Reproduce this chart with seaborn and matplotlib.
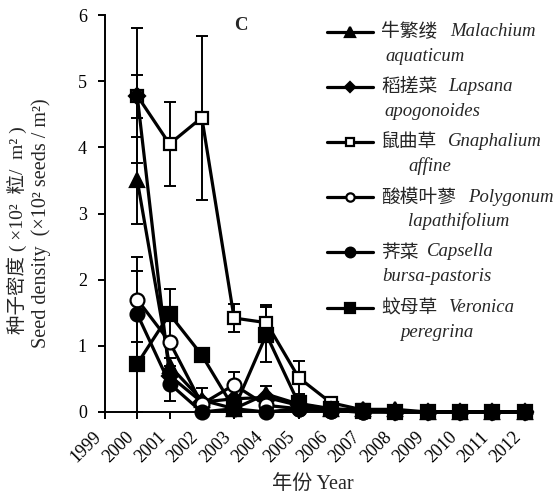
import matplotlib
matplotlib.use("Agg")
import matplotlib.pyplot as plt
import seaborn as sns
import numpy as np
from matplotlib.lines import Line2D

# ---------------- data ----------------
years = [2000, 2001, 2002, 2003, 2004, 2005, 2006, 2007, 2008, 2009, 2010, 2011, 2012]
tick_years = [1999, 2000, 2001, 2002, 2003, 2004, 2005, 2006, 2007, 2008, 2009, 2010, 2011, 2012]

malachium = [3.50, 0.70, 0.18, 0.05, 0.27, 0.12, 0.04, 0.04, 0.04, 0, 0, 0, 0]
malachium_err = [0.66, 0.12, 0.18, 0, 0.12, 0, 0, 0, 0, 0, 0, 0, 0]
lapsana = [4.77, 0.55, 0.15, 0.20, 0.22, 0.10, 0.03, 0.02, 0, 0, 0, 0, 0]
lapsana_err = [0.32, 0.10, 0, 0, 0, 0, 0, 0, 0, 0, 0, 0, 0]
gnaphalium = [4.78, 4.05, 4.45, 1.42, 1.35, 0.52, 0.14, 0.03, 0, 0, 0, 0, 0]
gnaphalium_err = [1.02, 0.63, 1.24, 0.21, 0.27, 0.25, 0.05, 0, 0, 0, 0, 0, 0]
polygonum = [1.70, 1.06, 0.12, 0.41, 0.10, 0.05, 0.02, 0, 0, 0, 0, 0, 0]
polygonum_err = [0.64, 0, 0, 0.20, 0, 0, 0, 0, 0, 0, 0, 0, 0]
capsella = [1.48, 0.43, 0, 0.05, 0, 0.05, 0.02, 0, 0, 0, 0, 0, 0]
capsella_err = [0.65, 0.27, 0, 0, 0, 0, 0, 0, 0, 0, 0, 0, 0]
veronica = [0.73, 1.48, 0.86, 0.05, 1.17, 0.13, 0.05, 0.02, 0, 0, 0, 0, 0]
veronica_err = [0.73, 0.38, 0, 0, 0.42, 0, 0, 0, 0, 0, 0, 0, 0]

cn_names = ["牛繁缕", "稻搓菜", "鼠曲草", "酸模叶蓼", "荠菜", "蚊母草"]
latin1 = ["Malachium", "Lapsana", "Gnaphalium", "Polygonum", "Capsella", "Veronica"]
latin2 = ["aquaticum", "apogonoides", "affine", "lapathifolium", "bursa-pastoris", "peregrina"]
ylabel_cn = "种子密度 ( ×10²  粒/  m² )"
ylabel_en = "Seed density  (×10² seeds / m²)"
xlabel = "年份 Year"
panel = "C"

series = [malachium, gnaphalium, lapsana, polygonum, capsella, veronica]
errors = [malachium_err, gnaphalium_err, lapsana_err, polygonum_err, capsella_err, veronica_err]

# ---------------- styles ----------------
plot_markers = ["^", "s", "D", "o", "o", "s"]
plot_face = ["black", "white", "black", "white", "black", "black"]
plot_ms = [10, 8.5, 8, 10, 10, 9.5]

markers = ["^", "D", "s", "o", "o", "s"]
facecols = ["black", "black", "white", "white", "black", "black"]
leg_msizes = [7, 5.5, 6, 6, 7, 7]
lat1_x = [450, 448, 448, 468, 427, 448]
lat2_x = [385, 384, 408, 408, 382, 400]
row_y = [32, 86.5, 142, 197, 252, 308]

sns.set_style("ticks")
plt.rcParams['font.family'] = ['Liberation Serif', 'Noto Sans CJK SC', 'DejaVu Sans']

W, H = 556, 497
fig = plt.figure(figsize=(W / 100, H / 100), dpi=100)
ax_left, ax_right, ax_top, ax_bot = 105, 531, 15, 412
ax = fig.add_axes([ax_left / W, 1 - ax_bot / H, (ax_right - ax_left) / W, (ax_bot - ax_top) / H])

for i, (vals, errs) in enumerate(zip(series, errors)):
    yrs_e = [y for y, e in zip(years, errs) if e > 0]
    v_e = [v for v, e in zip(vals, errs) if e > 0]
    e_e = [e for e in errs if e > 0]
    ax.errorbar(yrs_e, v_e, yerr=e_e, fmt='none', ecolor='black', elinewidth=1.4,
                capsize=4.5, capthick=1.4, clip_on=False, zorder=2)
    sns.lineplot(x=years, y=vals, ax=ax, color='black', marker=plot_markers[i],
                 markersize=plot_ms[i], markerfacecolor=plot_face[i], markeredgecolor='black',
                 markeredgewidth=1.6, linewidth=2.3, clip_on=False, zorder=3 + i)

ax.set_xlim(1999, 2012.2)
ax.set_ylim(0, 6)
ax.set_xticks(tick_years)
ax.set_xticklabels([str(y) for y in tick_years], rotation=45, ha='right', va='top',
                   rotation_mode='default')
ax.set_yticks([0, 1, 2, 3, 4, 5, 6])
ax.tick_params(axis='both', direction='out', length=5, width=1.4, labelsize=13, colors='black')
ax.tick_params(axis='y', pad=8)
ax.tick_params(axis='x', pad=7)
for s in ['left', 'bottom']:
    ax.spines[s].set_linewidth(1.4)
    ax.spines[s].set_color('black')
for s in ['top', 'right']:
    ax.spines[s].set_visible(False)

ax.set_xlabel("")
ax.set_ylabel("")
fig.text(313 / W, 1 - 484 / H, xlabel, fontsize=14.5, ha='center', va='center')
fig.text(17 / W, 1 - 230 / H, ylabel_cn, fontsize=14, rotation=90, ha='center', va='center')
fig.text(41 / W, 1 - 223.5 / H, ylabel_en, fontsize=14.5, rotation=90, ha='center', va='center')

fig.text(241 / W, 1 - 25 / H, panel, fontsize=13.5, fontweight='bold', ha='center', va='center')

# ---------------- legend (manual) ----------------
for i in range(6):
    yf = 1 - row_y[i] / H
    fig.add_artist(Line2D([327 / W, 373 / W], [yf, yf], color='black', lw=2.3))
    fig.add_artist(Line2D([350 / W], [yf], color='black', marker=markers[i],
                          markersize=leg_msizes[i], markerfacecolor=facecols[i],
                          markeredgecolor='black', markeredgewidth=1.6))
    fig.text(381 / W, yf, cn_names[i], fontsize=13.5, ha='left', va='center',
             family=['Noto Sans CJK SC', 'DejaVu Sans'])
    fig.text(lat1_x[i] / W, yf, latin1[i], fontsize=13.5, ha='left', va='center',
             style='italic')
    fig.text(lat2_x[i] / W, 1 - (row_y[i] + 24.5) / H, latin2[i], fontsize=13.5,
             ha='left', va='center', style='italic')

fig.savefig("out.png", dpi=100)
